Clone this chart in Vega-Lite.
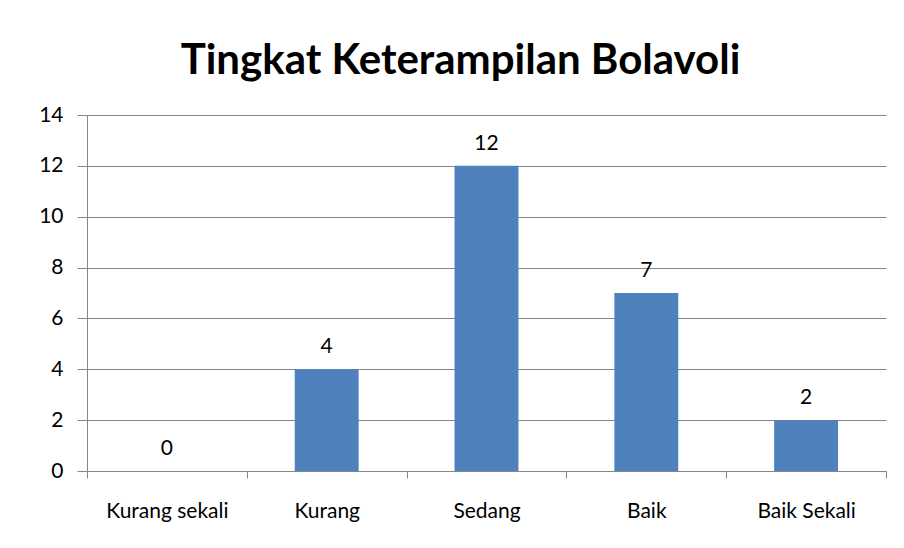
{
  "$schema": "https://vega.github.io/schema/vega-lite/v6.json",
  "autosize": {"type": "none"},
  "width": 799,
  "height": 356,
  "padding": {"left": 87, "top": 115, "right": 18, "bottom": 77},
  "background": "white",
  "title": {
    "text": "Tingkat Keterampilan Bolavoli",
    "font": "Lato",
    "fontSize": 42,
    "fontWeight": "bold",
    "color": "#000000",
    "anchor": "middle",
    "dx": -26,
    "offset": 21
  },
  "data": {
    "values": [
      {"kategori": "Kurang sekali", "jumlah": 0},
      {"kategori": "Kurang", "jumlah": 4},
      {"kategori": "Sedang", "jumlah": 12},
      {"kategori": "Baik", "jumlah": 7},
      {"kategori": "Baik Sekali", "jumlah": 2}
    ]
  },
  "encoding": {
    "x": {
      "field": "kategori",
      "type": "nominal",
      "sort": null,
      "scale": {"paddingInner": 0, "paddingOuter": 0},
      "axis": {
        "title": null,
        "labelAngle": 0,
        "labelFont": "Lato",
        "labelFontSize": 21,
        "labelColor": "#000000",
        "labelPadding": 22,
        "tickBand": "extent",
        "tickSize": 7,
        "tickColor": "#868686",
        "domainColor": "#868686",
        "grid": false
      }
    },
    "y": {
      "field": "jumlah",
      "type": "quantitative",
      "scale": {"domain": [0, 14]},
      "axis": {
        "title": null,
        "values": [0, 2, 4, 6, 8, 10, 12, 14],
        "labelFont": "Lato",
        "labelFontSize": 21,
        "labelColor": "#000000",
        "labelPadding": 14,
        "tickSize": 10,
        "tickColor": "#868686",
        "domainColor": "#868686",
        "gridColor": "#868686",
        "gridWidth": 1
      }
    }
  },
  "layer": [
    {
      "mark": {"type": "bar", "color": "#4F81BD", "width": {"band": 0.4}}
    },
    {
      "mark": {"type": "text", "font": "Lato", "fontSize": 21, "color": "#000000", "baseline": "bottom", "dy": -12},
      "encoding": {"text": {"field": "jumlah", "type": "quantitative"}}
    }
  ],
  "config": {
    "view": {"stroke": null}
  }
}
